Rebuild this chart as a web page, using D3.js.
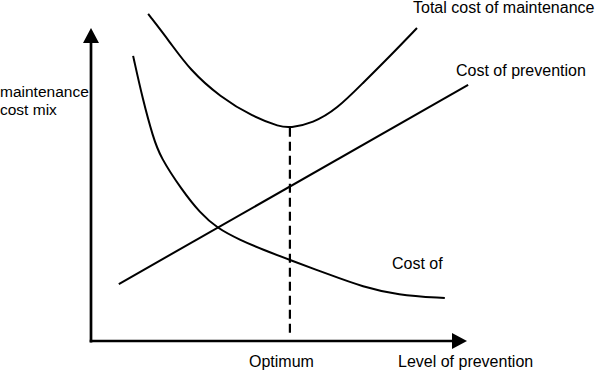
<!DOCTYPE html>
<html>
<head>
<meta charset="utf-8">
<script src="https://cdn.jsdelivr.net/npm/d3@7"></script>
<style>
  body { margin: 0; background: #fff; }
  svg text { font-family: Arial, "Liberation Sans", sans-serif; font-size: 16px; fill: #000; }
  svg text.side { font-size: 15.5px; }
</style>
</head>
<body>
<script>
// level of prevention (0-100) vs cost (0-100)
var totalLevel = [15.2, 21.0, 26.3, 34.3, 43.1, 50.3, 52.9, 59.0, 65.4, 72.3, 79.5, 86.7];
var totalCost  = [104.5, 95.5, 86.6, 78.0, 71.6, 68.4, 68.1, 69.6, 74.1, 82.4, 91.0, 100.0];

var failureLevel = [11.2, 13.8, 16.5, 18.4, 24.2, 29.0, 33.5, 39.6, 45.7, 52.9, 63.6, 72.3, 81.4, 94.1];
var failureCost  = [91.1, 77.0, 65.2, 58.8, 48.2, 40.9, 36.1, 32.3, 29.2, 25.9, 21.1, 17.3, 14.7, 13.7];

var preventionLevel = [7.4, 100.3];
var preventionCost  = [18.2, 81.8];

var optimumLevel = 52.9;
var optimumCost = 68.1;

var width = 600, height = 371;

var svg = d3.select('body').append('svg')
  .attr('width', width)
  .attr('height', height);

var x = d3.scaleLinear().domain([0, 100]).range([91, 467]);
var y = d3.scaleLinear().domain([0, 100]).range([341, 28]);

var zip = function (xs, ys) { return xs.map(function (v, i) { return [v, ys[i]]; }); };

var curve = d3.line()
  .x(function (d) { return x(d[0]); })
  .y(function (d) { return y(d[1]); })
  .curve(d3.curveBasis);

var straight = d3.line()
  .x(function (d) { return x(d[0]); })
  .y(function (d) { return y(d[1]); });

// axes with arrow heads
var head = 15, half = 8;
svg.append('line')
  .attr('x1', x(0)).attr('y1', y(0) + 1.5)
  .attr('x2', x(0)).attr('y2', y(100) + head)
  .attr('stroke', '#000').attr('stroke-width', 2.7);
svg.append('path')
  .attr('d', 'M' + x(0) + ',' + y(100) + 'L' + (x(0) - half) + ',' + (y(100) + head) + 'L' + (x(0) + half) + ',' + (y(100) + head) + 'Z')
  .attr('fill', '#000');

svg.append('line')
  .attr('x1', x(0) - 1.3).attr('y1', y(0))
  .attr('x2', x(100) - head).attr('y2', y(0))
  .attr('stroke', '#000').attr('stroke-width', 2.7);
svg.append('path')
  .attr('d', 'M' + x(100) + ',' + y(0) + 'L' + (x(100) - head) + ',' + (y(0) - half) + 'L' + (x(100) - head) + ',' + (y(0) + half) + 'Z')
  .attr('fill', '#000');

// optimum
svg.append('line')
  .attr('x1', x(optimumLevel)).attr('y1', y(optimumCost))
  .attr('x2', x(optimumLevel)).attr('y2', y(2.5))
  .attr('stroke', '#000').attr('stroke-width', 2.2)
  .attr('stroke-dasharray', '9,5');

svg.append('path')
  .datum(zip(totalLevel, totalCost))
  .attr('d', curve)
  .attr('fill', 'none').attr('stroke', '#000').attr('stroke-width', 2);

svg.append('path')
  .datum(zip(failureLevel, failureCost))
  .attr('d', curve)
  .attr('fill', 'none').attr('stroke', '#000').attr('stroke-width', 2);

svg.append('path')
  .datum(zip(preventionLevel, preventionCost))
  .attr('d', straight)
  .attr('fill', 'none').attr('stroke', '#000').attr('stroke-width', 2);

// labels
var labels = [
  {t: 'Total cost of maintenance', x: 413, y: 12.5},
  {t: 'Cost of prevention', x: 456, y: 76},
  {t: 'Cost of', x: 392, y: 269},
  {t: 'Optimum', x: 249, y: 367},
  {t: 'Level of prevention', x: 398, y: 367},
  {t: 'maintenance', x: 0, y: 97, c: 'side'},
  {t: 'cost mix', x: 0, y: 115, c: 'side'}
];
svg.selectAll('text.lbl').data(labels).enter()
  .append('text')
  .attr('class', function (d) { return 'lbl ' + (d.c || ''); })
  .attr('x', function (d) { return d.x; })
  .attr('y', function (d) { return d.y; })
  .text(function (d) { return d.t; });
</script>
</body>
</html>
